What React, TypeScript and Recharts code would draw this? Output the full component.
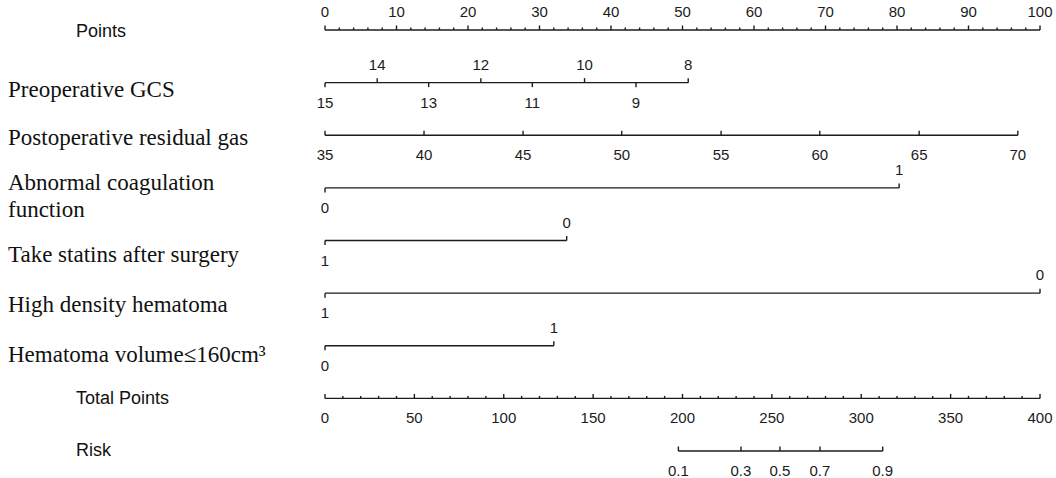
import React from 'react';
import { ComposedChart, Scatter, XAxis, YAxis } from 'recharts';

// Points scale (0-100)
const POINTS_LABELS = [0, 10, 20, 30, 40, 50, 60, 70, 80, 90, 100];

// Preoperative GCS: value -> points
const GCS_VALUES = ['15', '14', '13', '12', '11', '10', '9', '8'];
const GCS_POINTS = [0, 7.3, 14.5, 21.8, 29.0, 36.3, 43.5, 50.8];

// Postoperative residual gas
const GAS_VALUES = ['35', '40', '45', '50', '55', '60', '65', '70'];
const GAS_POINTS = [0, 13.85, 27.7, 41.5, 55.4, 69.2, 83.1, 96.9];

// Binary predictors
const COAG_VALUES = ['0', '1'];
const COAG_POINTS = [0, 80.3];
const STATIN_VALUES = ['1', '0'];
const STATIN_POINTS = [0, 33.8];
const DENSITY_VALUES = ['1', '0'];
const DENSITY_POINTS = [0, 100];
const VOLUME_VALUES = ['0', '1'];
const VOLUME_POINTS = [0, 32.0];

// Total points (0-400) and risk
const TOTAL_LABELS = [0, 50, 100, 150, 200, 250, 300, 350, 400];
const RISK_VALUES = ['0.1', '0.3', '0.5', '0.7', '0.9'];
const RISK_TOTAL = [197.7, 232.7, 254.5, 276.9, 312.0];

const ROW_LABELS = [
  'Points',
  'Preoperative GCS',
  'Postoperative residual gas',
  'Abnormal coagulation|function',
  'Take statins after surgery',
  'High density hematoma',
  'Hematoma volume≤160cm³',
  'Total Points',
  'Risk',
];

// label layout: x, baseline offset from the row's line, font
const LABEL_LAYOUT = [
  { x: 76, dy: 7, serif: false },
  { x: 8, dy: 14.5, serif: true },
  { x: 8, dy: 10, serif: true },
  { x: 8, dy: 2, serif: true },
  { x: 8, dy: 21.5, serif: true },
  { x: 8, dy: 19, serif: true },
  { x: 8, dy: 16, serif: true },
  { x: 76, dy: 6, serif: false },
  { x: 76, dy: 5, serif: false },
];

const INK = '#1c1c1c';
const SANS = '"Liberation Sans", Arial, sans-serif';
const SERIF = '"Liberation Serif", "Times New Roman", serif';

type Tick = { x: number; y: number; label?: string; side: 'up' | 'down'; minor?: boolean };

// numeric axis with labelled ticks plus n minor ticks in every interval
const axisRow = (row: number, labels: number[], minorPer: number): Tick[] => {
  const out: Tick[] = [];
  labels.forEach((v, i) => {
    out.push({ x: v, y: row, label: String(v), side: 'up' });
    if (i < labels.length - 1) {
      const step = (labels[i + 1] - v) / (minorPer + 1);
      for (let k = 1; k <= minorPer; k++) out.push({ x: v + step * k, y: row, side: 'up', minor: true });
    }
  });
  return out;
};

const varRow = (row: number, values: string[], pts: number[], sides: ('up' | 'down')[]): Tick[] =>
  values.map((v, i) => ({ x: pts[i], y: row, label: v, side: sides[i] }));

const rows: { data: Tick[]; axis: string; labelBelow?: boolean }[] = [
  { data: axisRow(0, POINTS_LABELS, 4), axis: 'pts' },
  { data: varRow(1, GCS_VALUES, GCS_POINTS, GCS_VALUES.map((_, i) => (i % 2 ? 'up' : 'down'))), axis: 'pts' },
  { data: varRow(2, GAS_VALUES, GAS_POINTS, GAS_VALUES.map(() => 'up')), axis: 'pts', labelBelow: true },
  { data: varRow(3, COAG_VALUES, COAG_POINTS, ['down', 'up']), axis: 'pts' },
  { data: varRow(4, STATIN_VALUES, STATIN_POINTS, ['down', 'up']), axis: 'pts' },
  { data: varRow(5, DENSITY_VALUES, DENSITY_POINTS, ['down', 'up']), axis: 'pts' },
  { data: varRow(6, VOLUME_VALUES, VOLUME_POINTS, ['down', 'up']), axis: 'pts' },
  { data: axisRow(7, TOTAL_LABELS, 4), axis: 'tot', labelBelow: true },
  { data: varRow(8, RISK_VALUES, RISK_TOTAL, RISK_VALUES.map(() => 'up')), axis: 'tot', labelBelow: true },
];

const makeShape = (labelBelow?: boolean) => (props: any) => {
  const { cx, cy, payload } = props;
  const up = payload.side === 'up';
  const len = payload.minor ? 2.5 : 4.5;
  const below = labelBelow ? true : !up;
  return (
    <g>
      <line x1={cx} x2={cx} y1={cy} y2={up ? cy - len : cy + len} stroke={INK} strokeWidth={1.4} />
      {payload.label != null && (
        <text
          x={cx}
          y={below ? cy + 25 : cy - 13}
          textAnchor="middle"
          fontFamily={SANS}
          fontSize={15}
          fill={INK}
        >
          {payload.label}
        </text>
      )}
    </g>
  );
};

const RowLabel = (props: any) => {
  const { y, payload } = props;
  const i = payload.value as number;
  const lay = LABEL_LAYOUT[i];
  const lines = ROW_LABELS[i].split('|');
  return (
    <text
      x={lay.x}
      y={y + lay.dy}
      fontFamily={lay.serif ? SERIF : SANS}
      fontSize={lay.serif ? 23 : 18}
      fill="#111"
      textAnchor="start"
    >
      {lines.map((t, k) => (
        <tspan key={k} x={lay.x} dy={k === 0 ? 0 : 27}>
          {t}
        </tspan>
      ))}
    </text>
  );
};

export default function App() {
  return (
    <div style={{ position: 'absolute', left: 0, top: 0, width: 1056, height: 478, background: '#fff' }}>
      <ComposedChart width={1056} height={478} margin={{ top: 30, right: 16, bottom: 27, left: 0 }}>
        <XAxis xAxisId="pts" type="number" dataKey="x" domain={[0, 100]} hide />
        <XAxis xAxisId="tot" type="number" dataKey="x" domain={[0, 400]} hide />
        <YAxis
          type="number"
          dataKey="y"
          domain={[0, 8]}
          reversed
          width={325}
          ticks={[0, 1, 2, 3, 4, 5, 6, 7, 8]}
          interval={0}
          axisLine={false}
          tickLine={false}
          tick={<RowLabel />}
        />
        {rows.map((r, i) => (
          <Scatter
            key={i}
            data={r.data}
            xAxisId={r.axis}
            line={{ stroke: INK, strokeWidth: 1.4 }}
            lineType="joint"
            shape={makeShape(r.labelBelow)}
            isAnimationActive={false}
          />
        ))}
      </ComposedChart>
    </div>
  );
}
